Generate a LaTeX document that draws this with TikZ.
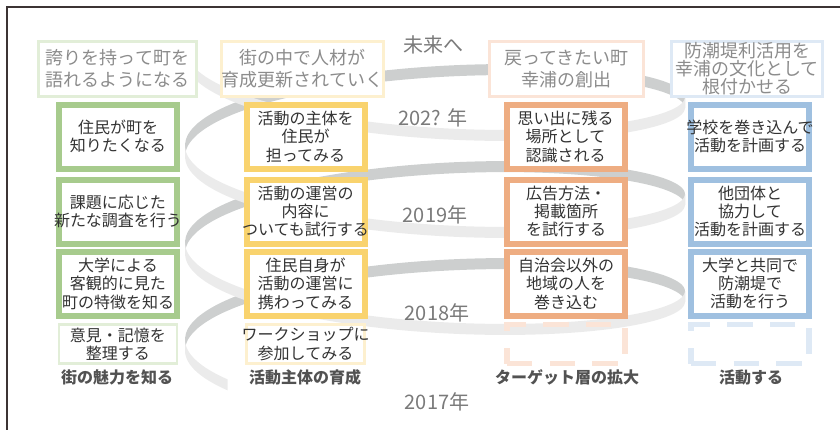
\documentclass[tikz,border=0pt]{standalone}
\usepackage{fontspec}
\setmainfont{Noto Sans CJK JP}
\definecolor{cgreen}{HTML}{A7CB8D}
\definecolor{fgreen}{HTML}{E2EED8}
\definecolor{cyellow}{HTML}{F9D36E}
\definecolor{fyellow}{HTML}{FDF0CF}
\definecolor{corange}{HTML}{EEAD82}
\definecolor{forange}{HTML}{FBE4D7}
\definecolor{cblue}{HTML}{9FC0E0}
\definecolor{fblue}{HTML}{DEE9F5}
\definecolor{bandgray}{HTML}{CDCFCF}
\definecolor{bandlight}{HTML}{EBEBEB}
\definecolor{txtdark}{HTML}{333333}
\definecolor{txtgray}{HTML}{8C8C8C}
\definecolor{yeargray}{HTML}{7A7A7A}
\definecolor{framecol}{HTML}{3C3434}
\newcommand\wide[1]{\makebox[\linewidth]{#1}}
\tikzset{
  stage/.style={draw=#1, line width=4.5pt, fill=white, text=txtdark, text width=88.5pt, inner sep=0pt,
    minimum height=48pt, align=center, font=\fontsize{12}{13.8}\selectfont},
  seed/.style={stage=#1, line width=2.2pt, minimum height=29.25pt},
  plan/.style={draw=#1, line width=4pt, dash pattern=on 19pt off 13pt, minimum width=88.5pt,
    minimum height=29.25pt, inner sep=0pt},
  wish/.style={draw=#1, line width=2.2pt, fill=white, text=txtgray, inner sep=0pt, minimum height=41.25pt,
    align=center, font=\fontsize{13.5}{16.5}\selectfont},
  yearlbl/.style={text=yeargray, font=\fontsize{15}{15}\selectfont},
  colname/.style={text=txtdark!85, font=\bfseries\fontsize{12}{12}\selectfont},
  bandback/.style={fill=bandgray},
  bandfront/.style={fill=bandlight}
}
\begin{document}
\begin{tikzpicture}[x=0.75pt, y=-0.75pt,
  declare function={hx(\t)=435-250*cos(\t); hy(\t)=345-0.269444*\t-55*sin(\t);}]
\useasboundingbox(0,0)rectangle(840,430);
\draw[framecol, line width=1.3pt](840,7)--(7,7)--(7,430);
\foreach \a/\b in {0/180,360/540,720/900}
  \fill[bandback]plot[domain=\a:\b, smooth, samples=40]({hx(\x)},{hy(\x)-5.5})
    --plot[domain=\b:\a, smooth, samples=40]({hx(\x)},{hy(\x)+5.5})--cycle;
\foreach \a/\b in {-34/0,180/360,540/720,900/1080}
  \fill[bandfront]plot[domain=\a:\b, smooth, samples=40]({hx(\x)},{hy(\x)-5.5})
    --plot[domain=\b:\a, smooth, samples=40]({hx(\x)},{hy(\x)+5.5})--cycle;

\node[yearlbl](future)at(433,45){未来へ};
\node[yearlbl](y202x)at(433,118){202? 年};
\node[yearlbl](y2019)at(435,215){2019年};
\node[yearlbl](y2018)at(437,313){2018年};
\node[yearlbl](y2017)at(437,402){2017年};

\node[wish=fgreen, minimum width=118.5pt](wish1)at(117.5,69){誇りを持って町を\\語れるようになる};
\node[wish=fyellow, minimum width=121.5pt](wish2)at(302.5,69){街の中で人材が\\育成更新されていく};
\node[wish=forange, minimum width=115.5pt](wish3)at(566.5,69){戻ってきたい町\\幸浦の創出};
\node[wish=fblue, minimum width=113.25pt, font=\fontsize{13.5}{12}\selectfont](wish4)at(747,69){防潮堤利活用を\\幸浦の文化として\\根付かせる};

\node[stage=cgreen](know3)at(118,136.5){住民が町を\\知りたくなる};
\node[stage=cgreen](know2)at(118,211.5){課題に応じた\\\wide{新たな調査を行う}};
\node[stage=cgreen](know1)at(118,283.5){大学による\\客観的に見た\\町の特徴を知る};
\node[seed=fgreen](know0)at(118,344){意見・記憶を\\整理する};
\node[colname](lblknow)at(117,377){街の魅力を知る};

\node[stage=cyellow](grow3)at(305.5,136.5){活動の主体を\\住民が\\担ってみる};
\node[stage=cyellow](grow2)at(305.5,211.5){活動の運営の\\内容に\\\wide{ついても試行する}};
\node[stage=cyellow](grow1)at(305.5,283.5){住民自身が\\活動の運営に\\携わってみる};
\node[seed=fyellow](grow0)at(305.5,344){\wide{ワークショップに}\\参加してみる};
\node[colname](lblgrow)at(305,377){活動主体の育成};

\node[stage=corange](reach3)at(565.5,136.5){思い出に残る\\場所として\\認識される};
\node[stage=corange](reach2)at(566,211.5){広告方法・\\掲載箇所\\を試行する};
\node[stage=corange](reach1)at(566,283.5){自治会以外の\\地域の人を\\巻き込む};
\node[plan=forange](reach0)at(566,344){};
\node[colname](lblreach)at(567,377){ターゲット層の拡大};

\node[stage=cblue](act3)at(750,136.5){\wide{学校を巻き込んで}\\活動を計画する};
\node[stage=cblue](act2)at(750,211.5){他団体と\\協力して\\活動を計画する};
\node[stage=cblue](act1)at(750,283.5){大学と共同で\\防潮堤で\\活動を行う};
\node[plan=fblue](act0)at(750,344){};
\node[colname](lblact)at(751,377){活動する};
\end{tikzpicture}
\end{document}
